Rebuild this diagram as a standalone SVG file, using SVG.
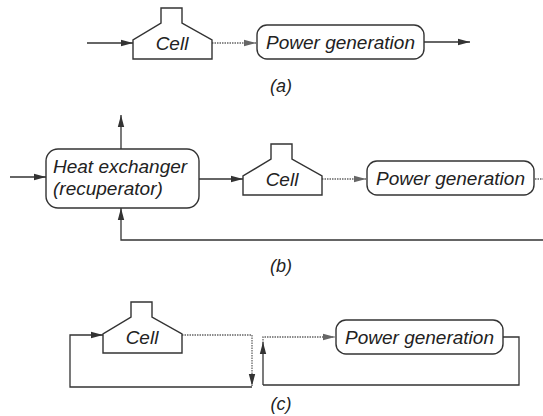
<svg xmlns="http://www.w3.org/2000/svg" width="543" height="416" viewBox="0 0 543 416">
<defs>
<marker id="ah" markerUnits="userSpaceOnUse" markerWidth="13" markerHeight="8" refX="12" refY="4" orient="auto">
<path d="M0,0.8 L12,4 L0,7.2 Z" fill="#333"/>
</marker>
<marker id="ahd" markerUnits="userSpaceOnUse" markerWidth="13" markerHeight="8" refX="12" refY="4" orient="auto">
<path d="M0,0.8 L12,4 L0,7.2 Z" fill="#666"/>
</marker>
<path id="cellShape" d="M0,0 V-19 L28,-36 V-51 H49 V-36 L79,-19 V0 Z"/>
</defs>
<style>
.node{fill:#fff;stroke:#333;stroke-width:1.4}
.t{font-family:"Liberation Sans",Arial,sans-serif;font-style:italic;font-size:19px;fill:#222}
.c{stroke:#333;stroke-width:1.3;fill:none}
.d{stroke:#666;stroke-width:1.3;fill:none;stroke-dasharray:1.5 1}
.lbl{font-family:"Liberation Sans",Arial,sans-serif;font-style:italic;font-size:18px;fill:#222;text-anchor:middle}
</style>

<g id="connectors">
<!-- (a) -->
<path class="c" d="M87,43 H133" marker-end="url(#ah)"/>
<path class="d" d="M212,43 H256" marker-end="url(#ahd)"/>
<path class="c" d="M424,42 H470" marker-end="url(#ah)"/>
<!-- (b) -->
<path class="c" d="M10,177 H46" marker-end="url(#ah)"/>
<path class="c" d="M121,149 V115" marker-end="url(#ah)"/>
<path class="c" d="M199,179 H243" marker-end="url(#ah)"/>
<path class="d" d="M322,179 H366" marker-end="url(#ahd)"/>
<path class="d" d="M535,179 H543"/>
<path class="c" d="M543,240 H121 V208" marker-end="url(#ah)"/>
<!-- (c) -->
<path class="c" d="M252,387 H70 V335 H103" marker-end="url(#ah)"/>
<path class="d" d="M182,335 H252 V386" marker-end="url(#ah)"/>
<path class="c" d="M263,385 V342" marker-end="url(#ah)"/>
<path class="d" d="M263,343 V337 H335" marker-end="url(#ahd)"/>
<path class="c" d="M503,337 H519 V385 H263"/>
</g>

<g id="cell-a">
<use href="#cellShape" class="node" transform="translate(133,59)"/>
<text class="t" x="172" y="50" text-anchor="middle">Cell</text>
</g>
<g id="power-a">
<rect class="node" x="257" y="25" width="167" height="34" rx="10"/>
<text class="t" x="340.5" y="49" text-anchor="middle">Power generation</text>
</g>
<text class="lbl" x="281" y="92">(a)</text>

<g id="hx-b">
<rect class="node" x="46" y="149" width="153" height="59" rx="12"/>
<text class="t" x="53" y="173">Heat exchanger</text>
<text class="t" x="53" y="195">(recuperator)</text>
</g>
<g id="cell-b">
<use href="#cellShape" class="node" transform="translate(243,195)"/>
<text class="t" x="282" y="186" text-anchor="middle">Cell</text>
</g>
<g id="power-b">
<rect class="node" x="367" y="161" width="167" height="34" rx="10"/>
<text class="t" x="450.5" y="185" text-anchor="middle">Power generation</text>
</g>
<text class="lbl" x="281" y="272">(b)</text>

<g id="cell-c">
<use href="#cellShape" class="node" transform="translate(103,353)"/>
<text class="t" x="142" y="344" text-anchor="middle">Cell</text>
</g>
<g id="power-c">
<rect class="node" x="336" y="320" width="167" height="34" rx="10"/>
<text class="t" x="419.5" y="344" text-anchor="middle">Power generation</text>
</g>
<text class="lbl" x="281" y="410">(c)</text>
</svg>
